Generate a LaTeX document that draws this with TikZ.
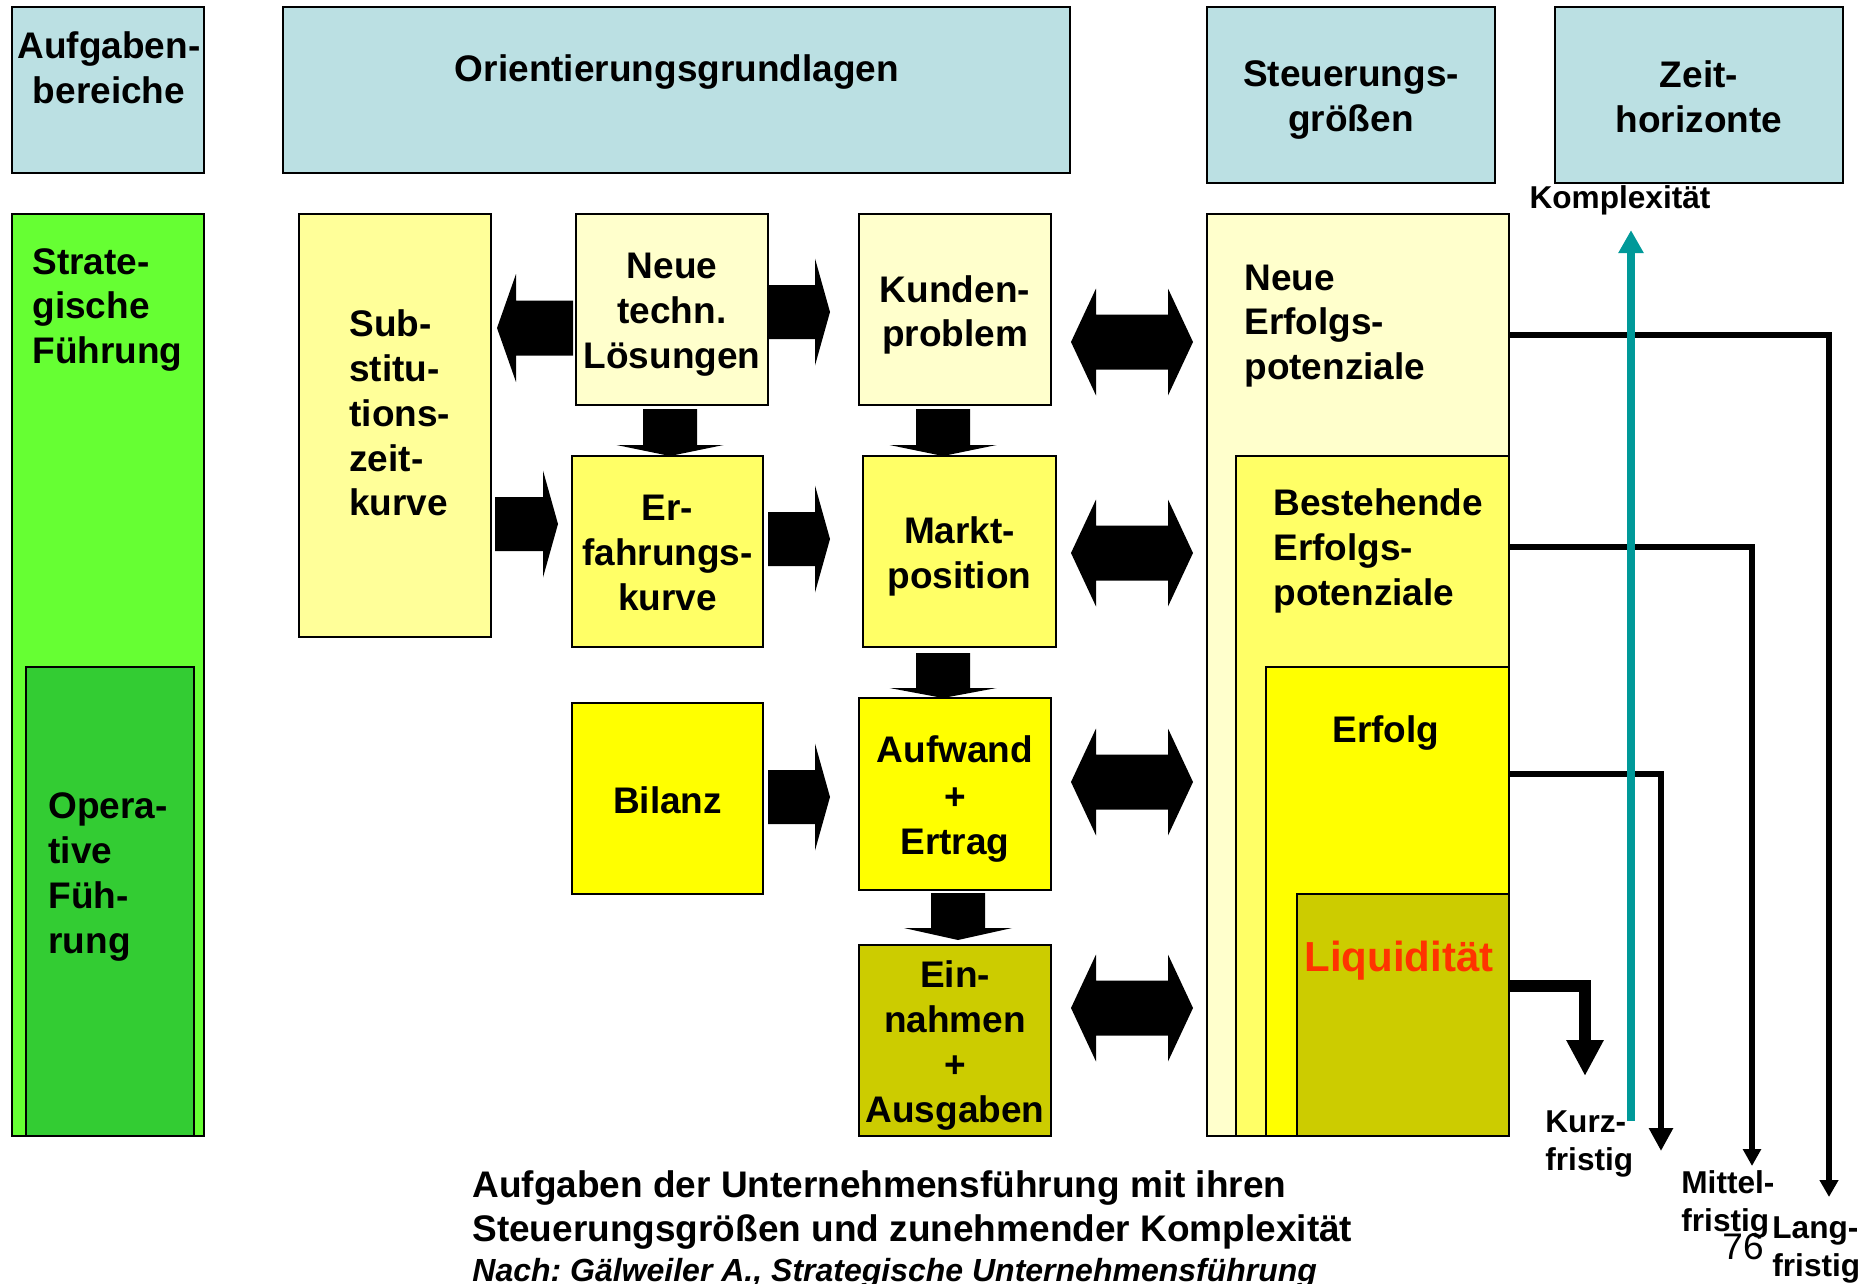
\documentclass[tikz,border=0pt]{standalone}
\usepackage{fontspec}
\setmainfont{Liberation Sans}
\usetikzlibrary{calc,fit,arrows.meta}
\frenchspacing

\definecolor{hdr}{HTML}{BBE0E3}
\definecolor{grnA}{HTML}{66FF33}
\definecolor{grnB}{HTML}{33CC33}
\definecolor{ylA}{HTML}{FFFFCC}
\definecolor{ylB}{HTML}{FFFF99}
\definecolor{ylC}{HTML}{FFFF66}
\definecolor{ylD}{HTML}{FFFF00}
\definecolor{olv}{HTML}{CCCC00}
\definecolor{tealc}{HTML}{009999}
\definecolor{liqred}{HTML}{FF3300}

% block arrow: tail, tip, half shaft width, half head width, head length
\newcommand\blockarrow[5]{%
  \coordinate (bah) at ($(#2)!#5!(#1)$);
  \fill ($(#1)!#3!90:(#2)$) -- ($(bah)!#3!90:(#2)$) -- ($(bah)!#4!90:(#2)$) -- (#2)
     -- ($(bah)!#4!-90:(#2)$) -- ($(bah)!#3!-90:(#2)$) -- ($(#1)!#3!-90:(#2)$) -- cycle;}

% double block arrow: end A, end B, half shaft width, half head width, head length
\newcommand\dblarrow[5]{%
  \coordinate (dah) at ($(#1)!#5!(#2)$);
  \coordinate (dbh) at ($(#2)!#5!(#1)$);
  \fill (#1) -- ($(dah)!#4!90:(#2)$) -- ($(dah)!#3!90:(#2)$) -- ($(dbh)!#3!90:(#2)$)
     -- ($(dbh)!#4!90:(#2)$) -- (#2) -- ($(dbh)!#4!-90:(#2)$) -- ($(dbh)!#3!-90:(#2)$)
     -- ($(dah)!#3!-90:(#2)$) -- ($(dah)!#4!-90:(#2)$) -- cycle;}

\begin{document}
\begin{tikzpicture}[x=0.5pt,y=-0.5pt,
  box/.style={draw=black, line width=1pt, inner sep=0pt, outer sep=0pt},
  lbl/.style={font=\bfseries\fontsize{18.5}{22.4}\selectfont, align=center, inner sep=0pt},
  lbll/.style={lbl, align=left, anchor=west},
  small/.style={font=\bfseries\fontsize{15.8}{19}\selectfont, align=left, inner sep=0pt},
  conn/.style={line width=3pt, line join=miter},
]
\useasboundingbox (0,0) rectangle (1875,1284);

% column headers
\node[box, fill=hdr, fit={(12,7) (204,173)}] (aufg) {};
\node[box, fill=hdr, fit={(283,7) (1070,173)}] (orient) {};
\node[box, fill=hdr, fit={(1207,7) (1495,183)}] (steuer) {};
\node[box, fill=hdr, fit={(1555,7) (1843,183)}] (zeit) {};
\node[lbl] at (109,68) {Aufgaben-\\bereiche};
\node[lbl] at (677,72) {Orientierungsgrundlagen};
\node[lbl] at ($(steuer.center)+(0,5)$) {Steuerungs-\\größen};
\node[lbl] at ($(zeit.center)+(0,2)$) {Zeit-\\horizonte};

% task areas
\node[box, fill=grnA, fit={(12,214) (204,1136)}] (strat) {};
\node[box, fill=grnB, fit={(26,667) (194,1136)}] (oper) {};
\node[lbll] at (32,310) {Strate-\\gische\\Führung};
\node[lbll] at (48,877) {Opera-\\tive\\Füh-\\rung};

% orientation bases
\node[box, fill=ylB, fit={(299,214) (491,637)}] (subst) {};
\node[box, fill=ylA, fit={(576,214) (768,405)}] (neuet) {};
\node[box, fill=ylA, fit={(859,214) (1051,405)}] (kunden) {};
\node[box, fill=ylC, fit={(572,456) (763,647)}] (erfahr) {};
\node[box, fill=ylC, fit={(863,456) (1056,647)}] (markt) {};
\node[box, fill=ylD, fit={(572,703) (763,894)}] (bilanz) {};
\node[box, fill=ylD, fit={(859,698) (1051,890)}] (aufw) {};
\node[box, fill=olv, fit={(859,945) (1051,1136)}] (einn) {};
\node[lbll] at (349,413) {Sub-\\stitu-\\tions-\\zeit-\\kurve};
\node[lbl] at ($(neuet.center)+(0,5)$) {Neue\\techn.\\Lösungen};
\node[lbl] at ($(kunden.center)+(0,5.5)$) {Kunden-\\problem};
\node[lbl] at ($(erfahr.center)+(0,1.5)$) {Er-\\fahrungs-\\kurve};
\node[lbl] at ($(markt.center)+(0,5)$) {Markt-\\position};
\node[lbl] at ($(bilanz.center)+(0,1.5)$) {Bilanz};
\node[lbl] at ($(aufw.center)+(0,5)$) {Aufwand\\[0.05em]+\\Ertrag};
\node[lbl] at ($(einn.center)+(0,5)$) {Ein-\\nahmen\\+\\Ausgaben};

% control variables (nested)
\node[box, fill=ylA, fit={(1207,214) (1509,1136)}] (nep) {};
\node[box, fill=ylC, fit={(1236,456) (1509,1136)}] (bep) {};
\node[box, fill=ylD, fit={(1266,667) (1509,1136)}] (erf) {};
\node[box, fill=olv, fit={(1297,894) (1509,1136)}] (liq) {};
\node[lbll] at (1244,326) {Neue\\Erfolgs-\\potenziale};
\node[lbll] at (1273,551) {Bestehende\\Erfolgs-\\potenziale};
\node[lbl] at (1386,733) {Erfolg};
\node[font=\bfseries\fontsize{21}{25}\selectfont, text=liqred, inner sep=0pt] at (1399,961) {Liquidität};

% block arrows between the orientation bases
\coordinate (a1t) at ($(neuet.west)+(-3,18.5)$);
\coordinate (a1p) at ($(subst.east |- a1t)+(6,0)$);
\blockarrow{a1t}{a1p}{13.75pt}{27pt}{9.5pt}
\coordinate (a2t) at ($(neuet.east)+(0,2.5)$);
\coordinate (a2p) at ($(kunden.west |- a2t)+(-29,0)$);
\blockarrow{a2t}{a2p}{13.5pt}{26.75pt}{7.5pt}
\coordinate (a3t) at ($(neuet.south)+(-2,4)$);
\coordinate (a3p) at (a3t |- erfahr.north);
\blockarrow{a3t}{a3p}{13.5pt}{26.75pt}{5.5pt}
\coordinate (a4t) at ($(kunden.south)+(-12,4)$);
\coordinate (a4p) at (a4t |- markt.north);
\blockarrow{a4t}{a4p}{13.5pt}{26.75pt}{5.5pt}
\coordinate (a5t) at ($(subst.east)+(4,98.5)$);
\coordinate (a5p) at ($(erfahr.west |- a5t)+(-14,0)$);
\blockarrow{a5t}{a5p}{13.5pt}{26.75pt}{7.5pt}
\coordinate (a6t) at ($(erfahr.east)+(5,-12.5)$);
\coordinate (a6p) at ($(markt.west |- a6t)+(-33,0)$);
\blockarrow{a6t}{a6p}{13.5pt}{26.75pt}{7.5pt}
\coordinate (a7t) at ($(markt.south)+(-16.5,6)$);
\coordinate (a7p) at (a7t |- aufw.north);
\blockarrow{a7t}{a7p}{13.5pt}{26.75pt}{5pt}
\coordinate (a8t) at ($(bilanz.east)+(5,-1.5)$);
\coordinate (a8p) at ($(aufw.west |- a8t)+(-29,0)$);
\blockarrow{a8t}{a8p}{13.5pt}{26.75pt}{7.5pt}
\coordinate (a9t) at ($(aufw.south)+(3,3)$);
\coordinate (a9p) at ($(a9t |- einn.north)+(0,-5)$);
\blockarrow{a9t}{a9p}{13.5pt}{27pt}{6pt}

% double arrows to the control variables
\coordinate (d1a) at ($(kunden.east)+(20,32.5)$);
\coordinate (d1b) at ($(nep.west |- d1a)+(-14,0)$);
\dblarrow{d1a}{d1b}{13.75pt}{26.75pt}{12.5pt}
\coordinate (d2a) at ($(markt.east)+(15,1.5)$);
\coordinate (d2b) at ($(nep.west |- d2a)+(-14,0)$);
\dblarrow{d2a}{d2b}{13.75pt}{26.75pt}{12.5pt}
\coordinate (d3a) at ($(aufw.east)+(20,-12)$);
\coordinate (d3b) at ($(nep.west |- d3a)+(-14,0)$);
\dblarrow{d3a}{d3b}{13.75pt}{26.75pt}{12.5pt}
\coordinate (d4a) at ($(einn.east)+(20,-32.5)$);
\coordinate (d4b) at ($(nep.west |- d4a)+(-14,0)$);
\dblarrow{d4a}{d4b}{13.75pt}{26.75pt}{12.5pt}

% time horizons
\coordinate (lang) at (1829,1197);
\coordinate (mittel) at (1752,1166);
\coordinate (kurzA) at (1661,1151);
\coordinate (kurzB) at (1585,1076);
\draw[conn, -{Triangle[width=9pt,length=8.5pt]}] ($(nep.north east)+(0,121)$) -| (lang);
\draw[conn, -{Triangle[width=8.75pt,length=8.5pt]}] ($(bep.north east)+(0,90.5)$) -| (mittel);
\draw[conn, -{Triangle[width=11.5pt,length=11.5pt]}] ($(erf.north east)+(0,107)$) -| (kurzA);
\draw[conn, line width=6pt, -{Triangle[width=17.5pt,length=18pt]}] ($(liq.north east)+(0,92)$) -| (kurzB);

% complexity axis
\coordinate (kbase) at (1631,1121);
\node[small] (komp) at (1620,200) {Komplexität};
\draw[tealc, line width=4pt, -{Triangle[width=12pt,length=11.5pt]}] (kbase) -- ($(komp.south -| kbase)+(0,15)$);

\node[small, anchor=west] at (1545,1144) {Kurz-\\fristig};
\node[small, anchor=west] at (1681,1204) {Mittel-\\fristig};
\node[small, anchor=west] at (1772,1250) {Lang-\\fristig};
\node[font=\fontsize{18.5}{22}\selectfont, inner sep=0pt] at (1743,1247) {76};

% caption
\node[anchor=base west, inner sep=0pt, font=\bfseries\fontsize{18.5}{22.4}\selectfont] at (472,1197)
  {Aufgaben der Unternehmensführung mit ihren};
\node[anchor=base west, inner sep=0pt, font=\bfseries\fontsize{18.5}{22.4}\selectfont] at (472,1241)
  {Steuerungsgrößen und zunehmender Komplexität};
\node[anchor=base west, inner sep=0pt, font=\bfseries\itshape\fontsize{16}{19}\selectfont] at (472,1281)
  {Nach: Gälweiler A., Strategische Unternehmensführung};
\end{tikzpicture}
\end{document}
